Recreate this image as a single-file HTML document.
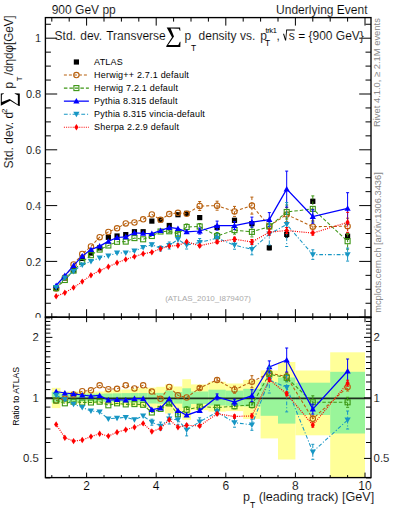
<!DOCTYPE html>
<html><head><meta charset="utf-8"><style>html,body{margin:0;padding:0;background:#fff;}svg{display:block;}text{stroke:#fff;stroke-width:0.12px;}text[font-size="9"],text[font-size="7.5"],text[font-size="8"],text[font-size="8.4"],text[font-size="8.6"],text[font-size="8.7"],text[font-size="9.3"],text[font-size="9.4"]{stroke:none;}</style></head>
<body><svg width="393" height="512" viewBox="0 0 393 512">
<defs>
<clipPath id="cm"><rect x="45.4" y="17.6" width="325.6" height="299.59999999999997"/></clipPath>
<clipPath id="cr"><rect x="45.4" y="317.2" width="325.6" height="160.40000000000003"/></clipPath>
<clipPath id="c0"><rect x="0" y="0" width="45" height="317.7"/></clipPath>
</defs>
<rect width="393" height="512" fill="#fff"/>
<g clip-path="url(#cr)">
<rect x="51.80" y="387.80" width="8.70" height="20.30" fill="#FFFF99"/><rect x="60.50" y="391.50" width="8.70" height="12.00" fill="#FFFF99"/><rect x="69.20" y="391.50" width="8.70" height="12.00" fill="#FFFF99"/><rect x="77.90" y="391.50" width="8.70" height="12.00" fill="#FFFF99"/><rect x="86.60" y="391.50" width="8.70" height="12.00" fill="#FFFF99"/><rect x="95.30" y="391.50" width="8.70" height="12.00" fill="#FFFF99"/><rect x="104.00" y="390.50" width="8.70" height="14.00" fill="#FFFF99"/><rect x="112.70" y="390.00" width="8.70" height="15.00" fill="#FFFF99"/><rect x="121.40" y="389.50" width="8.70" height="16.00" fill="#FFFF99"/><rect x="130.10" y="388.50" width="8.70" height="18.00" fill="#FFFF99"/><rect x="138.80" y="388.00" width="8.70" height="19.00" fill="#FFFF99"/><rect x="147.50" y="387.60" width="8.70" height="20.40" fill="#FFFF99"/><rect x="156.20" y="386.80" width="8.70" height="21.40" fill="#FFFF99"/><rect x="164.90" y="384.50" width="8.70" height="29.00" fill="#FFFF99"/><rect x="173.60" y="386.50" width="8.70" height="24.70" fill="#FFFF99"/><rect x="182.30" y="379.20" width="8.70" height="40.60" fill="#FFFF99"/><rect x="191.00" y="384.40" width="17.40" height="25.80" fill="#FFFF99"/><rect x="208.40" y="381.70" width="17.40" height="29.90" fill="#FFFF99"/><rect x="225.80" y="383.50" width="17.40" height="27.60" fill="#FFFF99"/><rect x="243.20" y="379.90" width="17.40" height="39.00" fill="#FFFF99"/><rect x="260.60" y="370.40" width="17.40" height="68.00" fill="#FFFF99"/><rect x="278.00" y="362.00" width="17.40" height="97.50" fill="#FFFF99"/><rect x="295.40" y="370.50" width="34.80" height="64.80" fill="#FFFF99"/><rect x="330.20" y="352.30" width="34.80" height="125.30" fill="#FFFF99"/><rect x="51.80" y="392.00" width="8.70" height="10.50" fill="#99F59A"/><rect x="60.50" y="393.70" width="8.70" height="7.80" fill="#99F59A"/><rect x="69.20" y="393.70" width="8.70" height="7.80" fill="#99F59A"/><rect x="77.90" y="393.70" width="8.70" height="7.80" fill="#99F59A"/><rect x="86.60" y="393.70" width="8.70" height="7.80" fill="#99F59A"/><rect x="95.30" y="393.70" width="8.70" height="7.80" fill="#99F59A"/><rect x="104.00" y="393.50" width="8.70" height="8.30" fill="#99F59A"/><rect x="112.70" y="393.30" width="8.70" height="8.70" fill="#99F59A"/><rect x="121.40" y="393.10" width="8.70" height="9.10" fill="#99F59A"/><rect x="130.10" y="393.00" width="8.70" height="9.50" fill="#99F59A"/><rect x="138.80" y="393.00" width="8.70" height="9.50" fill="#99F59A"/><rect x="147.50" y="392.90" width="8.70" height="10.60" fill="#99F59A"/><rect x="156.20" y="392.90" width="8.70" height="10.70" fill="#99F59A"/><rect x="164.90" y="390.60" width="8.70" height="13.80" fill="#99F59A"/><rect x="173.60" y="392.10" width="8.70" height="11.50" fill="#99F59A"/><rect x="182.30" y="388.30" width="8.70" height="19.70" fill="#99F59A"/><rect x="191.00" y="391.50" width="17.40" height="12.50" fill="#99F59A"/><rect x="208.40" y="389.70" width="17.40" height="15.80" fill="#99F59A"/><rect x="225.80" y="390.60" width="17.40" height="15.20" fill="#99F59A"/><rect x="243.20" y="388.80" width="17.40" height="17.60" fill="#99F59A"/><rect x="260.60" y="382.50" width="17.40" height="33.30" fill="#99F59A"/><rect x="278.00" y="377.50" width="17.40" height="46.10" fill="#99F59A"/><rect x="295.40" y="382.70" width="34.80" height="32.30" fill="#99F59A"/><rect x="330.20" y="371.80" width="34.80" height="61.70" fill="#99F59A"/>
<line x1="45.4" y1="398.40" x2="371.0" y2="398.40" stroke="#000" stroke-opacity="0.8" stroke-width="1.7"/>
<polyline points="56.15,400.60 64.85,398.60 73.55,394.50 82.25,391.20 90.95,390.30 99.65,385.30 108.35,389.20 117.05,388.80 125.75,385.30 134.45,388.40 143.15,385.30 151.85,391.60 160.55,398.80 169.25,387.00 177.95,395.30 186.65,397.50 199.70,388.00 217.10,379.90 234.50,389.70 251.90,381.70 269.30,373.10 286.70,376.60 312.80,418.80 347.60,387.00" fill="none" stroke="#B8600E" stroke-width="1.05" stroke-dasharray="3,2"/>
<path d="M199.70,386.50V389.50" stroke="#B8600E" stroke-width="1" fill="none" stroke-dasharray="3,2"/>
<path d="M198.20,386.50h3M198.20,389.50h3" stroke="#B8600E" stroke-width="1" fill="none"/>
<path d="M217.10,377.90V381.90" stroke="#B8600E" stroke-width="1" fill="none" stroke-dasharray="3,2"/>
<path d="M215.60,377.90h3M215.60,381.90h3" stroke="#B8600E" stroke-width="1" fill="none"/>
<path d="M234.50,386.20V393.20" stroke="#B8600E" stroke-width="1" fill="none" stroke-dasharray="3,2"/>
<path d="M233.00,386.20h3M233.00,393.20h3" stroke="#B8600E" stroke-width="1" fill="none"/>
<path d="M251.90,375.70V387.70" stroke="#B8600E" stroke-width="1" fill="none" stroke-dasharray="3,2"/>
<path d="M250.40,375.70h3M250.40,387.70h3" stroke="#B8600E" stroke-width="1" fill="none"/>
<path d="M269.30,370.10V376.10" stroke="#B8600E" stroke-width="1" fill="none" stroke-dasharray="3,2"/>
<path d="M267.80,370.10h3M267.80,376.10h3" stroke="#B8600E" stroke-width="1" fill="none"/>
<path d="M286.70,372.60V380.60" stroke="#B8600E" stroke-width="1" fill="none" stroke-dasharray="3,2"/>
<path d="M285.20,372.60h3M285.20,380.60h3" stroke="#B8600E" stroke-width="1" fill="none"/>
<path d="M312.80,415.80V421.80" stroke="#B8600E" stroke-width="1" fill="none" stroke-dasharray="3,2"/>
<path d="M311.30,415.80h3M311.30,421.80h3" stroke="#B8600E" stroke-width="1" fill="none"/>
<path d="M347.60,383.00V391.00" stroke="#B8600E" stroke-width="1" fill="none" stroke-dasharray="3,2"/>
<path d="M346.10,383.00h3M346.10,391.00h3" stroke="#B8600E" stroke-width="1" fill="none"/>
<circle cx="56.15" cy="400.60" r="2.7" fill="none" stroke="#B8600E" stroke-width="1.1"/>
<circle cx="64.85" cy="398.60" r="2.7" fill="none" stroke="#B8600E" stroke-width="1.1"/>
<circle cx="73.55" cy="394.50" r="2.7" fill="none" stroke="#B8600E" stroke-width="1.1"/>
<circle cx="82.25" cy="391.20" r="2.7" fill="none" stroke="#B8600E" stroke-width="1.1"/>
<circle cx="90.95" cy="390.30" r="2.7" fill="none" stroke="#B8600E" stroke-width="1.1"/>
<circle cx="99.65" cy="385.30" r="2.7" fill="none" stroke="#B8600E" stroke-width="1.1"/>
<circle cx="108.35" cy="389.20" r="2.7" fill="none" stroke="#B8600E" stroke-width="1.1"/>
<circle cx="117.05" cy="388.80" r="2.7" fill="none" stroke="#B8600E" stroke-width="1.1"/>
<circle cx="125.75" cy="385.30" r="2.7" fill="none" stroke="#B8600E" stroke-width="1.1"/>
<circle cx="134.45" cy="388.40" r="2.7" fill="none" stroke="#B8600E" stroke-width="1.1"/>
<circle cx="143.15" cy="385.30" r="2.7" fill="none" stroke="#B8600E" stroke-width="1.1"/>
<circle cx="151.85" cy="391.60" r="2.7" fill="none" stroke="#B8600E" stroke-width="1.1"/>
<circle cx="160.55" cy="398.80" r="2.7" fill="none" stroke="#B8600E" stroke-width="1.1"/>
<circle cx="169.25" cy="387.00" r="2.7" fill="none" stroke="#B8600E" stroke-width="1.1"/>
<circle cx="177.95" cy="395.30" r="2.7" fill="none" stroke="#B8600E" stroke-width="1.1"/>
<circle cx="186.65" cy="397.50" r="2.7" fill="none" stroke="#B8600E" stroke-width="1.1"/>
<circle cx="199.70" cy="388.00" r="2.7" fill="none" stroke="#B8600E" stroke-width="1.1"/>
<circle cx="217.10" cy="379.90" r="2.7" fill="none" stroke="#B8600E" stroke-width="1.1"/>
<circle cx="234.50" cy="389.70" r="2.7" fill="none" stroke="#B8600E" stroke-width="1.1"/>
<circle cx="251.90" cy="381.70" r="2.7" fill="none" stroke="#B8600E" stroke-width="1.1"/>
<circle cx="269.30" cy="373.10" r="2.7" fill="none" stroke="#B8600E" stroke-width="1.1"/>
<circle cx="286.70" cy="376.60" r="2.7" fill="none" stroke="#B8600E" stroke-width="1.1"/>
<circle cx="312.80" cy="418.80" r="2.7" fill="none" stroke="#B8600E" stroke-width="1.1"/>
<circle cx="347.60" cy="387.00" r="2.7" fill="none" stroke="#B8600E" stroke-width="1.1"/>
<polyline points="56.15,400.60 64.85,403.30 73.55,401.70 82.25,402.50 90.95,402.50 99.65,401.70 108.35,405.30 117.05,403.30 125.75,404.40 134.45,404.10 143.15,404.80 151.85,412.50 160.55,408.90 169.25,403.40 177.95,414.40 186.65,409.70 199.70,406.70 217.10,407.50 234.50,406.30 251.90,404.90 269.30,374.20 286.70,377.80 312.80,402.30 347.60,402.30" fill="none" stroke="#3C9614" stroke-width="1.05" stroke-dasharray="3.5,2"/>
<path d="M169.25,401.90V404.90" stroke="#3C9614" stroke-width="1" fill="none" stroke-dasharray="3.5,2"/>
<path d="M167.75,401.90h3M167.75,404.90h3" stroke="#3C9614" stroke-width="1" fill="none"/>
<path d="M177.95,412.40V416.40" stroke="#3C9614" stroke-width="1" fill="none" stroke-dasharray="3.5,2"/>
<path d="M176.45,412.40h3M176.45,416.40h3" stroke="#3C9614" stroke-width="1" fill="none"/>
<path d="M186.65,406.70V412.70" stroke="#3C9614" stroke-width="1" fill="none" stroke-dasharray="3.5,2"/>
<path d="M185.15,406.70h3M185.15,412.70h3" stroke="#3C9614" stroke-width="1" fill="none"/>
<path d="M199.70,405.20V408.20" stroke="#3C9614" stroke-width="1" fill="none" stroke-dasharray="3.5,2"/>
<path d="M198.20,405.20h3M198.20,408.20h3" stroke="#3C9614" stroke-width="1" fill="none"/>
<path d="M217.10,405.50V409.50" stroke="#3C9614" stroke-width="1" fill="none" stroke-dasharray="3.5,2"/>
<path d="M215.60,405.50h3M215.60,409.50h3" stroke="#3C9614" stroke-width="1" fill="none"/>
<path d="M234.50,403.80V408.80" stroke="#3C9614" stroke-width="1" fill="none" stroke-dasharray="3.5,2"/>
<path d="M233.00,403.80h3M233.00,408.80h3" stroke="#3C9614" stroke-width="1" fill="none"/>
<path d="M251.90,401.90V407.90" stroke="#3C9614" stroke-width="1" fill="none" stroke-dasharray="3.5,2"/>
<path d="M250.40,401.90h3M250.40,407.90h3" stroke="#3C9614" stroke-width="1" fill="none"/>
<path d="M269.30,371.20V377.20" stroke="#3C9614" stroke-width="1" fill="none" stroke-dasharray="3.5,2"/>
<path d="M267.80,371.20h3M267.80,377.20h3" stroke="#3C9614" stroke-width="1" fill="none"/>
<path d="M286.70,373.80V381.80" stroke="#3C9614" stroke-width="1" fill="none" stroke-dasharray="3.5,2"/>
<path d="M285.20,373.80h3M285.20,381.80h3" stroke="#3C9614" stroke-width="1" fill="none"/>
<path d="M312.80,395.80V408.80" stroke="#3C9614" stroke-width="1" fill="none" stroke-dasharray="3.5,2"/>
<path d="M311.30,395.80h3M311.30,408.80h3" stroke="#3C9614" stroke-width="1" fill="none"/>
<path d="M347.60,397.30V407.30" stroke="#3C9614" stroke-width="1" fill="none" stroke-dasharray="3.5,2"/>
<path d="M346.10,397.30h3M346.10,407.30h3" stroke="#3C9614" stroke-width="1" fill="none"/>
<rect x="53.65" y="398.10" width="5" height="5" fill="none" stroke="#3C9614" stroke-width="1.1"/>
<rect x="62.35" y="400.80" width="5" height="5" fill="none" stroke="#3C9614" stroke-width="1.1"/>
<rect x="71.05" y="399.20" width="5" height="5" fill="none" stroke="#3C9614" stroke-width="1.1"/>
<rect x="79.75" y="400.00" width="5" height="5" fill="none" stroke="#3C9614" stroke-width="1.1"/>
<rect x="88.45" y="400.00" width="5" height="5" fill="none" stroke="#3C9614" stroke-width="1.1"/>
<rect x="97.15" y="399.20" width="5" height="5" fill="none" stroke="#3C9614" stroke-width="1.1"/>
<rect x="105.85" y="402.80" width="5" height="5" fill="none" stroke="#3C9614" stroke-width="1.1"/>
<rect x="114.55" y="400.80" width="5" height="5" fill="none" stroke="#3C9614" stroke-width="1.1"/>
<rect x="123.25" y="401.90" width="5" height="5" fill="none" stroke="#3C9614" stroke-width="1.1"/>
<rect x="131.95" y="401.60" width="5" height="5" fill="none" stroke="#3C9614" stroke-width="1.1"/>
<rect x="140.65" y="402.30" width="5" height="5" fill="none" stroke="#3C9614" stroke-width="1.1"/>
<rect x="149.35" y="410.00" width="5" height="5" fill="none" stroke="#3C9614" stroke-width="1.1"/>
<rect x="158.05" y="406.40" width="5" height="5" fill="none" stroke="#3C9614" stroke-width="1.1"/>
<rect x="166.75" y="400.90" width="5" height="5" fill="none" stroke="#3C9614" stroke-width="1.1"/>
<rect x="175.45" y="411.90" width="5" height="5" fill="none" stroke="#3C9614" stroke-width="1.1"/>
<rect x="184.15" y="407.20" width="5" height="5" fill="none" stroke="#3C9614" stroke-width="1.1"/>
<rect x="197.20" y="404.20" width="5" height="5" fill="none" stroke="#3C9614" stroke-width="1.1"/>
<rect x="214.60" y="405.00" width="5" height="5" fill="none" stroke="#3C9614" stroke-width="1.1"/>
<rect x="232.00" y="403.80" width="5" height="5" fill="none" stroke="#3C9614" stroke-width="1.1"/>
<rect x="249.40" y="402.40" width="5" height="5" fill="none" stroke="#3C9614" stroke-width="1.1"/>
<rect x="266.80" y="371.70" width="5" height="5" fill="none" stroke="#3C9614" stroke-width="1.1"/>
<rect x="284.20" y="375.30" width="5" height="5" fill="none" stroke="#3C9614" stroke-width="1.1"/>
<rect x="310.30" y="399.80" width="5" height="5" fill="none" stroke="#3C9614" stroke-width="1.1"/>
<rect x="345.10" y="399.80" width="5" height="5" fill="none" stroke="#3C9614" stroke-width="1.1"/>
<polyline points="56.15,391.50 64.85,393.00 73.55,393.80 82.25,395.00 90.95,396.00 99.65,395.50 108.35,400.20 117.05,399.70 125.75,400.20 134.45,398.60 143.15,398.60 151.85,409.50 160.55,408.10 169.25,398.80 177.95,410.50 186.65,415.20 199.70,410.60 217.10,396.90 234.50,402.20 251.90,395.70 269.30,366.90 286.70,360.00 312.80,409.10 347.60,371.00" fill="none" stroke="#0000FF" stroke-width="1.25"/>
<path d="M199.70,409.10V412.10" stroke="#0000FF" stroke-width="1" fill="none"/>
<path d="M198.20,409.10h3M198.20,412.10h3" stroke="#0000FF" stroke-width="1" fill="none"/>
<path d="M217.10,393.90V399.90" stroke="#0000FF" stroke-width="1" fill="none"/>
<path d="M215.60,393.90h3M215.60,399.90h3" stroke="#0000FF" stroke-width="1" fill="none"/>
<path d="M234.50,399.20V405.20" stroke="#0000FF" stroke-width="1" fill="none"/>
<path d="M233.00,399.20h3M233.00,405.20h3" stroke="#0000FF" stroke-width="1" fill="none"/>
<path d="M251.90,389.70V401.70" stroke="#0000FF" stroke-width="1" fill="none"/>
<path d="M250.40,389.70h3M250.40,401.70h3" stroke="#0000FF" stroke-width="1" fill="none"/>
<path d="M269.30,360.90V372.90" stroke="#0000FF" stroke-width="1" fill="none"/>
<path d="M267.80,360.90h3M267.80,372.90h3" stroke="#0000FF" stroke-width="1" fill="none"/>
<path d="M286.70,348.00V372.00" stroke="#0000FF" stroke-width="1" fill="none"/>
<path d="M285.20,348.00h3M285.20,372.00h3" stroke="#0000FF" stroke-width="1" fill="none"/>
<path d="M312.80,404.10V414.10" stroke="#0000FF" stroke-width="1" fill="none"/>
<path d="M311.30,404.10h3M311.30,414.10h3" stroke="#0000FF" stroke-width="1" fill="none"/>
<path d="M347.60,359.00V383.00" stroke="#0000FF" stroke-width="1" fill="none"/>
<path d="M346.10,359.00h3M346.10,383.00h3" stroke="#0000FF" stroke-width="1" fill="none"/>
<path d="M56.15,388.40 L59.25,393.90 L53.05,393.90Z" fill="#0000FF"/>
<path d="M64.85,389.90 L67.95,395.40 L61.75,395.40Z" fill="#0000FF"/>
<path d="M73.55,390.70 L76.65,396.20 L70.45,396.20Z" fill="#0000FF"/>
<path d="M82.25,391.90 L85.35,397.40 L79.15,397.40Z" fill="#0000FF"/>
<path d="M90.95,392.90 L94.05,398.40 L87.85,398.40Z" fill="#0000FF"/>
<path d="M99.65,392.40 L102.75,397.90 L96.55,397.90Z" fill="#0000FF"/>
<path d="M108.35,397.10 L111.45,402.60 L105.25,402.60Z" fill="#0000FF"/>
<path d="M117.05,396.60 L120.15,402.10 L113.95,402.10Z" fill="#0000FF"/>
<path d="M125.75,397.10 L128.85,402.60 L122.65,402.60Z" fill="#0000FF"/>
<path d="M134.45,395.50 L137.55,401.00 L131.35,401.00Z" fill="#0000FF"/>
<path d="M143.15,395.50 L146.25,401.00 L140.05,401.00Z" fill="#0000FF"/>
<path d="M151.85,406.40 L154.95,411.90 L148.75,411.90Z" fill="#0000FF"/>
<path d="M160.55,405.00 L163.65,410.50 L157.45,410.50Z" fill="#0000FF"/>
<path d="M169.25,395.70 L172.35,401.20 L166.15,401.20Z" fill="#0000FF"/>
<path d="M177.95,407.40 L181.05,412.90 L174.85,412.90Z" fill="#0000FF"/>
<path d="M186.65,412.10 L189.75,417.60 L183.55,417.60Z" fill="#0000FF"/>
<path d="M199.70,407.50 L202.80,413.00 L196.60,413.00Z" fill="#0000FF"/>
<path d="M217.10,393.80 L220.20,399.30 L214.00,399.30Z" fill="#0000FF"/>
<path d="M234.50,399.10 L237.60,404.60 L231.40,404.60Z" fill="#0000FF"/>
<path d="M251.90,392.60 L255.00,398.10 L248.80,398.10Z" fill="#0000FF"/>
<path d="M269.30,363.80 L272.40,369.30 L266.20,369.30Z" fill="#0000FF"/>
<path d="M286.70,356.90 L289.80,362.40 L283.60,362.40Z" fill="#0000FF"/>
<path d="M312.80,406.00 L315.90,411.50 L309.70,411.50Z" fill="#0000FF"/>
<path d="M347.60,367.90 L350.70,373.40 L344.50,373.40Z" fill="#0000FF"/>
<polyline points="56.15,395.20 64.85,399.60 73.55,404.20 82.25,407.50 90.95,411.00 99.65,411.90 108.35,418.80 117.05,418.10 125.75,417.40 134.45,419.70 143.15,416.00 151.85,422.20 160.55,426.10 169.25,419.00 177.95,419.80 186.65,429.90 199.70,421.80 217.10,412.00 234.50,422.70 251.90,424.80 269.30,380.00 286.70,387.40 312.80,451.80 347.60,420.00" fill="none" stroke="#1796C4" stroke-width="1.05" stroke-dasharray="3.8,1.9,1.1,1.9"/>
<path d="M151.85,419.20V425.20" stroke="#1796C4" stroke-width="1" fill="none" stroke-dasharray="3.8,1.9,1.1,1.9"/>
<path d="M150.35,419.20h3M150.35,425.20h3" stroke="#1796C4" stroke-width="1" fill="none"/>
<path d="M160.55,422.10V430.10" stroke="#1796C4" stroke-width="1" fill="none" stroke-dasharray="3.8,1.9,1.1,1.9"/>
<path d="M159.05,422.10h3M159.05,430.10h3" stroke="#1796C4" stroke-width="1" fill="none"/>
<path d="M169.25,414.00V424.00" stroke="#1796C4" stroke-width="1" fill="none" stroke-dasharray="3.8,1.9,1.1,1.9"/>
<path d="M167.75,414.00h3M167.75,424.00h3" stroke="#1796C4" stroke-width="1" fill="none"/>
<path d="M177.95,414.80V424.80" stroke="#1796C4" stroke-width="1" fill="none" stroke-dasharray="3.8,1.9,1.1,1.9"/>
<path d="M176.45,414.80h3M176.45,424.80h3" stroke="#1796C4" stroke-width="1" fill="none"/>
<path d="M186.65,423.90V435.90" stroke="#1796C4" stroke-width="1" fill="none" stroke-dasharray="3.8,1.9,1.1,1.9"/>
<path d="M185.15,423.90h3M185.15,435.90h3" stroke="#1796C4" stroke-width="1" fill="none"/>
<path d="M199.70,417.80V425.80" stroke="#1796C4" stroke-width="1" fill="none" stroke-dasharray="3.8,1.9,1.1,1.9"/>
<path d="M198.20,417.80h3M198.20,425.80h3" stroke="#1796C4" stroke-width="1" fill="none"/>
<path d="M217.10,409.00V415.00" stroke="#1796C4" stroke-width="1" fill="none" stroke-dasharray="3.8,1.9,1.1,1.9"/>
<path d="M215.60,409.00h3M215.60,415.00h3" stroke="#1796C4" stroke-width="1" fill="none"/>
<path d="M234.50,418.20V427.20" stroke="#1796C4" stroke-width="1" fill="none" stroke-dasharray="3.8,1.9,1.1,1.9"/>
<path d="M233.00,418.20h3M233.00,427.20h3" stroke="#1796C4" stroke-width="1" fill="none"/>
<path d="M251.90,419.30V430.30" stroke="#1796C4" stroke-width="1" fill="none" stroke-dasharray="3.8,1.9,1.1,1.9"/>
<path d="M250.40,419.30h3M250.40,430.30h3" stroke="#1796C4" stroke-width="1" fill="none"/>
<path d="M269.30,367.00V393.00" stroke="#1796C4" stroke-width="1" fill="none" stroke-dasharray="3.8,1.9,1.1,1.9"/>
<path d="M267.80,367.00h3M267.80,393.00h3" stroke="#1796C4" stroke-width="1" fill="none"/>
<path d="M286.70,375.40V411.90" stroke="#1796C4" stroke-width="1" fill="none" stroke-dasharray="3.8,1.9,1.1,1.9"/>
<path d="M285.20,375.40h3M285.20,411.90h3" stroke="#1796C4" stroke-width="1" fill="none"/>
<path d="M312.80,444.30V459.30" stroke="#1796C4" stroke-width="1" fill="none" stroke-dasharray="3.8,1.9,1.1,1.9"/>
<path d="M311.30,444.30h3M311.30,459.30h3" stroke="#1796C4" stroke-width="1" fill="none"/>
<path d="M347.60,411.00V429.00" stroke="#1796C4" stroke-width="1" fill="none" stroke-dasharray="3.8,1.9,1.1,1.9"/>
<path d="M346.10,411.00h3M346.10,429.00h3" stroke="#1796C4" stroke-width="1" fill="none"/>
<path d="M56.15,398.30 L59.25,392.80 L53.05,392.80Z" fill="#1796C4"/>
<path d="M64.85,402.70 L67.95,397.20 L61.75,397.20Z" fill="#1796C4"/>
<path d="M73.55,407.30 L76.65,401.80 L70.45,401.80Z" fill="#1796C4"/>
<path d="M82.25,410.60 L85.35,405.10 L79.15,405.10Z" fill="#1796C4"/>
<path d="M90.95,414.10 L94.05,408.60 L87.85,408.60Z" fill="#1796C4"/>
<path d="M99.65,415.00 L102.75,409.50 L96.55,409.50Z" fill="#1796C4"/>
<path d="M108.35,421.90 L111.45,416.40 L105.25,416.40Z" fill="#1796C4"/>
<path d="M117.05,421.20 L120.15,415.70 L113.95,415.70Z" fill="#1796C4"/>
<path d="M125.75,420.50 L128.85,415.00 L122.65,415.00Z" fill="#1796C4"/>
<path d="M134.45,422.80 L137.55,417.30 L131.35,417.30Z" fill="#1796C4"/>
<path d="M143.15,419.10 L146.25,413.60 L140.05,413.60Z" fill="#1796C4"/>
<path d="M151.85,425.30 L154.95,419.80 L148.75,419.80Z" fill="#1796C4"/>
<path d="M160.55,429.20 L163.65,423.70 L157.45,423.70Z" fill="#1796C4"/>
<path d="M169.25,422.10 L172.35,416.60 L166.15,416.60Z" fill="#1796C4"/>
<path d="M177.95,422.90 L181.05,417.40 L174.85,417.40Z" fill="#1796C4"/>
<path d="M186.65,433.00 L189.75,427.50 L183.55,427.50Z" fill="#1796C4"/>
<path d="M199.70,424.90 L202.80,419.40 L196.60,419.40Z" fill="#1796C4"/>
<path d="M217.10,415.10 L220.20,409.60 L214.00,409.60Z" fill="#1796C4"/>
<path d="M234.50,425.80 L237.60,420.30 L231.40,420.30Z" fill="#1796C4"/>
<path d="M251.90,427.90 L255.00,422.40 L248.80,422.40Z" fill="#1796C4"/>
<path d="M269.30,383.10 L272.40,377.60 L266.20,377.60Z" fill="#1796C4"/>
<path d="M286.70,390.50 L289.80,385.00 L283.60,385.00Z" fill="#1796C4"/>
<path d="M312.80,454.90 L315.90,449.40 L309.70,449.40Z" fill="#1796C4"/>
<path d="M347.60,423.10 L350.70,417.60 L344.50,417.60Z" fill="#1796C4"/>
<polyline points="56.15,424.40 64.85,437.70 73.55,441.10 82.25,440.00 90.95,436.60 99.65,433.80 108.35,436.10 117.05,432.20 125.75,429.70 134.45,427.30 143.15,423.40 151.85,431.50 160.55,428.40 169.25,419.80 177.95,427.20 186.65,425.30 199.70,425.90 217.10,413.80 234.50,416.50 251.90,415.90 269.30,379.60 286.70,393.80 312.80,425.10 347.60,383.20" fill="none" stroke="#FF0000" stroke-width="1.2" stroke-dasharray="1,1.2"/>
<path d="M199.70,424.90V426.90" stroke="#FF0000" stroke-width="1" fill="none" stroke-dasharray="1,1.2"/>
<path d="M198.20,424.90h3M198.20,426.90h3" stroke="#FF0000" stroke-width="1" fill="none"/>
<path d="M217.10,412.80V414.80" stroke="#FF0000" stroke-width="1" fill="none" stroke-dasharray="1,1.2"/>
<path d="M215.60,412.80h3M215.60,414.80h3" stroke="#FF0000" stroke-width="1" fill="none"/>
<path d="M234.50,415.00V418.00" stroke="#FF0000" stroke-width="1" fill="none" stroke-dasharray="1,1.2"/>
<path d="M233.00,415.00h3M233.00,418.00h3" stroke="#FF0000" stroke-width="1" fill="none"/>
<path d="M251.90,413.90V417.90" stroke="#FF0000" stroke-width="1" fill="none" stroke-dasharray="1,1.2"/>
<path d="M250.40,413.90h3M250.40,417.90h3" stroke="#FF0000" stroke-width="1" fill="none"/>
<path d="M269.30,377.60V381.60" stroke="#FF0000" stroke-width="1" fill="none" stroke-dasharray="1,1.2"/>
<path d="M267.80,377.60h3M267.80,381.60h3" stroke="#FF0000" stroke-width="1" fill="none"/>
<path d="M286.70,391.80V395.80" stroke="#FF0000" stroke-width="1" fill="none" stroke-dasharray="1,1.2"/>
<path d="M285.20,391.80h3M285.20,395.80h3" stroke="#FF0000" stroke-width="1" fill="none"/>
<path d="M312.80,423.10V427.10" stroke="#FF0000" stroke-width="1" fill="none" stroke-dasharray="1,1.2"/>
<path d="M311.30,423.10h3M311.30,427.10h3" stroke="#FF0000" stroke-width="1" fill="none"/>
<path d="M347.60,380.20V386.20" stroke="#FF0000" stroke-width="1" fill="none" stroke-dasharray="1,1.2"/>
<path d="M346.10,380.20h3M346.10,386.20h3" stroke="#FF0000" stroke-width="1" fill="none"/>
<path d="M56.15,421.20 L58.25,424.40 L56.15,427.60 L54.05,424.40Z" fill="#FF0000"/>
<path d="M64.85,434.50 L66.95,437.70 L64.85,440.90 L62.75,437.70Z" fill="#FF0000"/>
<path d="M73.55,437.90 L75.65,441.10 L73.55,444.30 L71.45,441.10Z" fill="#FF0000"/>
<path d="M82.25,436.80 L84.35,440.00 L82.25,443.20 L80.15,440.00Z" fill="#FF0000"/>
<path d="M90.95,433.40 L93.05,436.60 L90.95,439.80 L88.85,436.60Z" fill="#FF0000"/>
<path d="M99.65,430.60 L101.75,433.80 L99.65,437.00 L97.55,433.80Z" fill="#FF0000"/>
<path d="M108.35,432.90 L110.45,436.10 L108.35,439.30 L106.25,436.10Z" fill="#FF0000"/>
<path d="M117.05,429.00 L119.15,432.20 L117.05,435.40 L114.95,432.20Z" fill="#FF0000"/>
<path d="M125.75,426.50 L127.85,429.70 L125.75,432.90 L123.65,429.70Z" fill="#FF0000"/>
<path d="M134.45,424.10 L136.55,427.30 L134.45,430.50 L132.35,427.30Z" fill="#FF0000"/>
<path d="M143.15,420.20 L145.25,423.40 L143.15,426.60 L141.05,423.40Z" fill="#FF0000"/>
<path d="M151.85,428.30 L153.95,431.50 L151.85,434.70 L149.75,431.50Z" fill="#FF0000"/>
<path d="M160.55,425.20 L162.65,428.40 L160.55,431.60 L158.45,428.40Z" fill="#FF0000"/>
<path d="M169.25,416.60 L171.35,419.80 L169.25,423.00 L167.15,419.80Z" fill="#FF0000"/>
<path d="M177.95,424.00 L180.05,427.20 L177.95,430.40 L175.85,427.20Z" fill="#FF0000"/>
<path d="M186.65,422.10 L188.75,425.30 L186.65,428.50 L184.55,425.30Z" fill="#FF0000"/>
<path d="M199.70,422.70 L201.80,425.90 L199.70,429.10 L197.60,425.90Z" fill="#FF0000"/>
<path d="M217.10,410.60 L219.20,413.80 L217.10,417.00 L215.00,413.80Z" fill="#FF0000"/>
<path d="M234.50,413.30 L236.60,416.50 L234.50,419.70 L232.40,416.50Z" fill="#FF0000"/>
<path d="M251.90,412.70 L254.00,415.90 L251.90,419.10 L249.80,415.90Z" fill="#FF0000"/>
<path d="M269.30,376.40 L271.40,379.60 L269.30,382.80 L267.20,379.60Z" fill="#FF0000"/>
<path d="M286.70,390.60 L288.80,393.80 L286.70,397.00 L284.60,393.80Z" fill="#FF0000"/>
<path d="M312.80,421.90 L314.90,425.10 L312.80,428.30 L310.70,425.10Z" fill="#FF0000"/>
<path d="M347.60,380.00 L349.70,383.20 L347.60,386.40 L345.50,383.20Z" fill="#FF0000"/>
</g>
<g clip-path="url(#cm)">
<path d="M199.70,216.60V218.60" stroke="#000000" stroke-width="1" fill="none"/>
<path d="M198.20,216.60h3M198.20,218.60h3" stroke="#000000" stroke-width="1" fill="none"/>
<path d="M217.10,226.50V228.50" stroke="#000000" stroke-width="1" fill="none"/>
<path d="M215.60,226.50h3M215.60,228.50h3" stroke="#000000" stroke-width="1" fill="none"/>
<path d="M234.50,218.80V221.80" stroke="#000000" stroke-width="1" fill="none"/>
<path d="M233.00,218.80h3M233.00,221.80h3" stroke="#000000" stroke-width="1" fill="none"/>
<path d="M251.90,221.60V225.60" stroke="#000000" stroke-width="1" fill="none"/>
<path d="M250.40,221.60h3M250.40,225.60h3" stroke="#000000" stroke-width="1" fill="none"/>
<path d="M269.30,245.80V249.80" stroke="#000000" stroke-width="1" fill="none"/>
<path d="M267.80,245.80h3M267.80,249.80h3" stroke="#000000" stroke-width="1" fill="none"/>
<path d="M286.70,231.40V237.40" stroke="#000000" stroke-width="1" fill="none"/>
<path d="M285.20,231.40h3M285.20,237.40h3" stroke="#000000" stroke-width="1" fill="none"/>
<path d="M312.80,199.30V203.30" stroke="#000000" stroke-width="1" fill="none"/>
<path d="M311.30,199.30h3M311.30,203.30h3" stroke="#000000" stroke-width="1" fill="none"/>
<path d="M347.60,233.30V239.30" stroke="#000000" stroke-width="1" fill="none"/>
<path d="M346.10,233.30h3M346.10,239.30h3" stroke="#000000" stroke-width="1" fill="none"/>
<rect x="53.55" y="285.80" width="5.2" height="5.2" fill="#000"/>
<rect x="62.25" y="275.40" width="5.2" height="5.2" fill="#000"/>
<rect x="70.95" y="267.40" width="5.2" height="5.2" fill="#000"/>
<rect x="79.65" y="255.80" width="5.2" height="5.2" fill="#000"/>
<rect x="88.35" y="250.50" width="5.2" height="5.2" fill="#000"/>
<rect x="97.05" y="245.30" width="5.2" height="5.2" fill="#000"/>
<rect x="105.75" y="234.70" width="5.2" height="5.2" fill="#000"/>
<rect x="114.45" y="233.40" width="5.2" height="5.2" fill="#000"/>
<rect x="123.15" y="232.00" width="5.2" height="5.2" fill="#000"/>
<rect x="131.85" y="229.10" width="5.2" height="5.2" fill="#000"/>
<rect x="140.55" y="229.10" width="5.2" height="5.2" fill="#000"/>
<rect x="149.25" y="218.50" width="5.2" height="5.2" fill="#000"/>
<rect x="157.95" y="217.20" width="5.2" height="5.2" fill="#000"/>
<rect x="166.65" y="222.90" width="5.2" height="5.2" fill="#000"/>
<rect x="175.35" y="212.10" width="5.2" height="5.2" fill="#000"/>
<rect x="184.05" y="210.80" width="5.2" height="5.2" fill="#000"/>
<rect x="197.10" y="215.00" width="5.2" height="5.2" fill="#000"/>
<rect x="214.50" y="224.90" width="5.2" height="5.2" fill="#000"/>
<rect x="231.90" y="217.70" width="5.2" height="5.2" fill="#000"/>
<rect x="249.30" y="221.00" width="5.2" height="5.2" fill="#000"/>
<rect x="266.70" y="245.20" width="5.2" height="5.2" fill="#000"/>
<rect x="284.10" y="231.80" width="5.2" height="5.2" fill="#000"/>
<rect x="310.20" y="198.70" width="5.2" height="5.2" fill="#000"/>
<rect x="345.00" y="233.70" width="5.2" height="5.2" fill="#000"/>
<polyline points="56.15,288.50 64.85,277.50 73.55,264.50 82.25,254.00 90.95,246.40 99.65,237.20 108.35,231.90 117.05,228.30 125.75,223.40 134.45,222.50 143.15,219.30 151.85,214.40 160.55,219.80 169.25,214.10 177.95,212.80 186.65,213.80 199.70,206.00 217.10,205.70 234.50,211.40 251.90,205.60 269.30,226.00 286.70,214.60 312.80,226.70 347.60,226.20" fill="none" stroke="#B8600E" stroke-width="1.05" stroke-dasharray="3,2"/>
<path d="M199.70,201.50V210.50" stroke="#B8600E" stroke-width="1" fill="none" stroke-dasharray="3,2"/>
<path d="M198.20,201.50h3M198.20,210.50h3" stroke="#B8600E" stroke-width="1" fill="none"/>
<path d="M217.10,201.20V210.20" stroke="#B8600E" stroke-width="1" fill="none" stroke-dasharray="3,2"/>
<path d="M215.60,201.20h3M215.60,210.20h3" stroke="#B8600E" stroke-width="1" fill="none"/>
<path d="M234.50,206.40V216.40" stroke="#B8600E" stroke-width="1" fill="none" stroke-dasharray="3,2"/>
<path d="M233.00,206.40h3M233.00,216.40h3" stroke="#B8600E" stroke-width="1" fill="none"/>
<path d="M251.90,197.10V214.10" stroke="#B8600E" stroke-width="1" fill="none" stroke-dasharray="3,2"/>
<path d="M250.40,197.10h3M250.40,214.10h3" stroke="#B8600E" stroke-width="1" fill="none"/>
<path d="M269.30,220.00V232.00" stroke="#B8600E" stroke-width="1" fill="none" stroke-dasharray="3,2"/>
<path d="M267.80,220.00h3M267.80,232.00h3" stroke="#B8600E" stroke-width="1" fill="none"/>
<path d="M286.70,207.60V221.60" stroke="#B8600E" stroke-width="1" fill="none" stroke-dasharray="3,2"/>
<path d="M285.20,207.60h3M285.20,221.60h3" stroke="#B8600E" stroke-width="1" fill="none"/>
<path d="M312.80,220.70V232.70" stroke="#B8600E" stroke-width="1" fill="none" stroke-dasharray="3,2"/>
<path d="M311.30,220.70h3M311.30,232.70h3" stroke="#B8600E" stroke-width="1" fill="none"/>
<path d="M347.60,218.20V234.20" stroke="#B8600E" stroke-width="1" fill="none" stroke-dasharray="3,2"/>
<path d="M346.10,218.20h3M346.10,234.20h3" stroke="#B8600E" stroke-width="1" fill="none"/>
<circle cx="56.15" cy="288.50" r="2.7" fill="none" stroke="#B8600E" stroke-width="1.1"/>
<circle cx="64.85" cy="277.50" r="2.7" fill="none" stroke="#B8600E" stroke-width="1.1"/>
<circle cx="73.55" cy="264.50" r="2.7" fill="none" stroke="#B8600E" stroke-width="1.1"/>
<circle cx="82.25" cy="254.00" r="2.7" fill="none" stroke="#B8600E" stroke-width="1.1"/>
<circle cx="90.95" cy="246.40" r="2.7" fill="none" stroke="#B8600E" stroke-width="1.1"/>
<circle cx="99.65" cy="237.20" r="2.7" fill="none" stroke="#B8600E" stroke-width="1.1"/>
<circle cx="108.35" cy="231.90" r="2.7" fill="none" stroke="#B8600E" stroke-width="1.1"/>
<circle cx="117.05" cy="228.30" r="2.7" fill="none" stroke="#B8600E" stroke-width="1.1"/>
<circle cx="125.75" cy="223.40" r="2.7" fill="none" stroke="#B8600E" stroke-width="1.1"/>
<circle cx="134.45" cy="222.50" r="2.7" fill="none" stroke="#B8600E" stroke-width="1.1"/>
<circle cx="143.15" cy="219.30" r="2.7" fill="none" stroke="#B8600E" stroke-width="1.1"/>
<circle cx="151.85" cy="214.40" r="2.7" fill="none" stroke="#B8600E" stroke-width="1.1"/>
<circle cx="160.55" cy="219.80" r="2.7" fill="none" stroke="#B8600E" stroke-width="1.1"/>
<circle cx="169.25" cy="214.10" r="2.7" fill="none" stroke="#B8600E" stroke-width="1.1"/>
<circle cx="177.95" cy="212.80" r="2.7" fill="none" stroke="#B8600E" stroke-width="1.1"/>
<circle cx="186.65" cy="213.80" r="2.7" fill="none" stroke="#B8600E" stroke-width="1.1"/>
<circle cx="199.70" cy="206.00" r="2.7" fill="none" stroke="#B8600E" stroke-width="1.1"/>
<circle cx="217.10" cy="205.70" r="2.7" fill="none" stroke="#B8600E" stroke-width="1.1"/>
<circle cx="234.50" cy="211.40" r="2.7" fill="none" stroke="#B8600E" stroke-width="1.1"/>
<circle cx="251.90" cy="205.60" r="2.7" fill="none" stroke="#B8600E" stroke-width="1.1"/>
<circle cx="269.30" cy="226.00" r="2.7" fill="none" stroke="#B8600E" stroke-width="1.1"/>
<circle cx="286.70" cy="214.60" r="2.7" fill="none" stroke="#B8600E" stroke-width="1.1"/>
<circle cx="312.80" cy="226.70" r="2.7" fill="none" stroke="#B8600E" stroke-width="1.1"/>
<circle cx="347.60" cy="226.20" r="2.7" fill="none" stroke="#B8600E" stroke-width="1.1"/>
<polyline points="56.15,288.20 64.85,280.00 73.55,270.60 82.25,262.00 90.95,255.20 99.65,249.60 108.35,245.50 117.05,241.80 125.75,241.60 134.45,238.10 143.15,239.30 151.85,236.00 160.55,231.50 169.25,231.30 177.95,233.80 186.65,227.00 199.70,226.50 217.10,236.00 234.50,230.10 251.90,231.90 269.30,226.50 286.70,212.00 312.80,208.90 347.60,241.20" fill="none" stroke="#3C9614" stroke-width="1.05" stroke-dasharray="3.5,2"/>
<path d="M160.55,230.50V232.50" stroke="#3C9614" stroke-width="1" fill="none" stroke-dasharray="3.5,2"/>
<path d="M159.05,230.50h3M159.05,232.50h3" stroke="#3C9614" stroke-width="1" fill="none"/>
<path d="M169.25,230.30V232.30" stroke="#3C9614" stroke-width="1" fill="none" stroke-dasharray="3.5,2"/>
<path d="M167.75,230.30h3M167.75,232.30h3" stroke="#3C9614" stroke-width="1" fill="none"/>
<path d="M177.95,232.30V235.30" stroke="#3C9614" stroke-width="1" fill="none" stroke-dasharray="3.5,2"/>
<path d="M176.45,232.30h3M176.45,235.30h3" stroke="#3C9614" stroke-width="1" fill="none"/>
<path d="M186.65,224.00V230.00" stroke="#3C9614" stroke-width="1" fill="none" stroke-dasharray="3.5,2"/>
<path d="M185.15,224.00h3M185.15,230.00h3" stroke="#3C9614" stroke-width="1" fill="none"/>
<path d="M199.70,223.50V229.50" stroke="#3C9614" stroke-width="1" fill="none" stroke-dasharray="3.5,2"/>
<path d="M198.20,223.50h3M198.20,229.50h3" stroke="#3C9614" stroke-width="1" fill="none"/>
<path d="M217.10,232.50V239.50" stroke="#3C9614" stroke-width="1" fill="none" stroke-dasharray="3.5,2"/>
<path d="M215.60,232.50h3M215.60,239.50h3" stroke="#3C9614" stroke-width="1" fill="none"/>
<path d="M234.50,226.10V234.10" stroke="#3C9614" stroke-width="1" fill="none" stroke-dasharray="3.5,2"/>
<path d="M233.00,226.10h3M233.00,234.10h3" stroke="#3C9614" stroke-width="1" fill="none"/>
<path d="M251.90,226.90V236.90" stroke="#3C9614" stroke-width="1" fill="none" stroke-dasharray="3.5,2"/>
<path d="M250.40,226.90h3M250.40,236.90h3" stroke="#3C9614" stroke-width="1" fill="none"/>
<path d="M269.30,220.50V232.50" stroke="#3C9614" stroke-width="1" fill="none" stroke-dasharray="3.5,2"/>
<path d="M267.80,220.50h3M267.80,232.50h3" stroke="#3C9614" stroke-width="1" fill="none"/>
<path d="M286.70,205.00V219.00" stroke="#3C9614" stroke-width="1" fill="none" stroke-dasharray="3.5,2"/>
<path d="M285.20,205.00h3M285.20,219.00h3" stroke="#3C9614" stroke-width="1" fill="none"/>
<path d="M312.80,195.90V221.90" stroke="#3C9614" stroke-width="1" fill="none" stroke-dasharray="3.5,2"/>
<path d="M311.30,195.90h3M311.30,221.90h3" stroke="#3C9614" stroke-width="1" fill="none"/>
<path d="M347.60,233.20V249.20" stroke="#3C9614" stroke-width="1" fill="none" stroke-dasharray="3.5,2"/>
<path d="M346.10,233.20h3M346.10,249.20h3" stroke="#3C9614" stroke-width="1" fill="none"/>
<rect x="53.65" y="285.70" width="5" height="5" fill="none" stroke="#3C9614" stroke-width="1.1"/>
<rect x="62.35" y="277.50" width="5" height="5" fill="none" stroke="#3C9614" stroke-width="1.1"/>
<rect x="71.05" y="268.10" width="5" height="5" fill="none" stroke="#3C9614" stroke-width="1.1"/>
<rect x="79.75" y="259.50" width="5" height="5" fill="none" stroke="#3C9614" stroke-width="1.1"/>
<rect x="88.45" y="252.70" width="5" height="5" fill="none" stroke="#3C9614" stroke-width="1.1"/>
<rect x="97.15" y="247.10" width="5" height="5" fill="none" stroke="#3C9614" stroke-width="1.1"/>
<rect x="105.85" y="243.00" width="5" height="5" fill="none" stroke="#3C9614" stroke-width="1.1"/>
<rect x="114.55" y="239.30" width="5" height="5" fill="none" stroke="#3C9614" stroke-width="1.1"/>
<rect x="123.25" y="239.10" width="5" height="5" fill="none" stroke="#3C9614" stroke-width="1.1"/>
<rect x="131.95" y="235.60" width="5" height="5" fill="none" stroke="#3C9614" stroke-width="1.1"/>
<rect x="140.65" y="236.80" width="5" height="5" fill="none" stroke="#3C9614" stroke-width="1.1"/>
<rect x="149.35" y="233.50" width="5" height="5" fill="none" stroke="#3C9614" stroke-width="1.1"/>
<rect x="158.05" y="229.00" width="5" height="5" fill="none" stroke="#3C9614" stroke-width="1.1"/>
<rect x="166.75" y="228.80" width="5" height="5" fill="none" stroke="#3C9614" stroke-width="1.1"/>
<rect x="175.45" y="231.30" width="5" height="5" fill="none" stroke="#3C9614" stroke-width="1.1"/>
<rect x="184.15" y="224.50" width="5" height="5" fill="none" stroke="#3C9614" stroke-width="1.1"/>
<rect x="197.20" y="224.00" width="5" height="5" fill="none" stroke="#3C9614" stroke-width="1.1"/>
<rect x="214.60" y="233.50" width="5" height="5" fill="none" stroke="#3C9614" stroke-width="1.1"/>
<rect x="232.00" y="227.60" width="5" height="5" fill="none" stroke="#3C9614" stroke-width="1.1"/>
<rect x="249.40" y="229.40" width="5" height="5" fill="none" stroke="#3C9614" stroke-width="1.1"/>
<rect x="266.80" y="224.00" width="5" height="5" fill="none" stroke="#3C9614" stroke-width="1.1"/>
<rect x="284.20" y="209.50" width="5" height="5" fill="none" stroke="#3C9614" stroke-width="1.1"/>
<rect x="310.30" y="206.40" width="5" height="5" fill="none" stroke="#3C9614" stroke-width="1.1"/>
<rect x="345.10" y="238.70" width="5" height="5" fill="none" stroke="#3C9614" stroke-width="1.1"/>
<polyline points="56.15,285.50 64.85,275.60 73.55,265.60 82.25,256.10 90.95,249.60 99.65,246.10 108.35,241.40 117.05,237.50 125.75,236.90 134.45,232.80 143.15,233.40 151.85,233.60 160.55,230.60 169.25,227.50 177.95,228.70 186.65,231.90 199.70,231.00 217.10,225.60 234.50,225.60 251.90,222.10 269.30,219.60 286.70,189.10 312.80,216.50 347.60,208.40" fill="none" stroke="#0000FF" stroke-width="1.25"/>
<path d="M199.70,228.00V234.00" stroke="#0000FF" stroke-width="1" fill="none"/>
<path d="M198.20,228.00h3M198.20,234.00h3" stroke="#0000FF" stroke-width="1" fill="none"/>
<path d="M217.10,221.10V230.10" stroke="#0000FF" stroke-width="1" fill="none"/>
<path d="M215.60,221.10h3M215.60,230.10h3" stroke="#0000FF" stroke-width="1" fill="none"/>
<path d="M234.50,221.60V229.60" stroke="#0000FF" stroke-width="1" fill="none"/>
<path d="M233.00,221.60h3M233.00,229.60h3" stroke="#0000FF" stroke-width="1" fill="none"/>
<path d="M251.90,217.10V227.10" stroke="#0000FF" stroke-width="1" fill="none"/>
<path d="M250.40,217.10h3M250.40,227.10h3" stroke="#0000FF" stroke-width="1" fill="none"/>
<path d="M269.30,212.60V226.60" stroke="#0000FF" stroke-width="1" fill="none"/>
<path d="M267.80,212.60h3M267.80,226.60h3" stroke="#0000FF" stroke-width="1" fill="none"/>
<path d="M286.70,171.10V207.10" stroke="#0000FF" stroke-width="1" fill="none"/>
<path d="M285.20,171.10h3M285.20,207.10h3" stroke="#0000FF" stroke-width="1" fill="none"/>
<path d="M312.80,209.80V223.20" stroke="#0000FF" stroke-width="1" fill="none"/>
<path d="M311.30,209.80h3M311.30,223.20h3" stroke="#0000FF" stroke-width="1" fill="none"/>
<path d="M347.60,192.70V224.10" stroke="#0000FF" stroke-width="1" fill="none"/>
<path d="M346.10,192.70h3M346.10,224.10h3" stroke="#0000FF" stroke-width="1" fill="none"/>
<path d="M56.15,282.40 L59.25,287.90 L53.05,287.90Z" fill="#0000FF"/>
<path d="M64.85,272.50 L67.95,278.00 L61.75,278.00Z" fill="#0000FF"/>
<path d="M73.55,262.50 L76.65,268.00 L70.45,268.00Z" fill="#0000FF"/>
<path d="M82.25,253.00 L85.35,258.50 L79.15,258.50Z" fill="#0000FF"/>
<path d="M90.95,246.50 L94.05,252.00 L87.85,252.00Z" fill="#0000FF"/>
<path d="M99.65,243.00 L102.75,248.50 L96.55,248.50Z" fill="#0000FF"/>
<path d="M108.35,238.30 L111.45,243.80 L105.25,243.80Z" fill="#0000FF"/>
<path d="M117.05,234.40 L120.15,239.90 L113.95,239.90Z" fill="#0000FF"/>
<path d="M125.75,233.80 L128.85,239.30 L122.65,239.30Z" fill="#0000FF"/>
<path d="M134.45,229.70 L137.55,235.20 L131.35,235.20Z" fill="#0000FF"/>
<path d="M143.15,230.30 L146.25,235.80 L140.05,235.80Z" fill="#0000FF"/>
<path d="M151.85,230.50 L154.95,236.00 L148.75,236.00Z" fill="#0000FF"/>
<path d="M160.55,227.50 L163.65,233.00 L157.45,233.00Z" fill="#0000FF"/>
<path d="M169.25,224.40 L172.35,229.90 L166.15,229.90Z" fill="#0000FF"/>
<path d="M177.95,225.60 L181.05,231.10 L174.85,231.10Z" fill="#0000FF"/>
<path d="M186.65,228.80 L189.75,234.30 L183.55,234.30Z" fill="#0000FF"/>
<path d="M199.70,227.90 L202.80,233.40 L196.60,233.40Z" fill="#0000FF"/>
<path d="M217.10,222.50 L220.20,228.00 L214.00,228.00Z" fill="#0000FF"/>
<path d="M234.50,222.50 L237.60,228.00 L231.40,228.00Z" fill="#0000FF"/>
<path d="M251.90,219.00 L255.00,224.50 L248.80,224.50Z" fill="#0000FF"/>
<path d="M269.30,216.50 L272.40,222.00 L266.20,222.00Z" fill="#0000FF"/>
<path d="M286.70,186.00 L289.80,191.50 L283.60,191.50Z" fill="#0000FF"/>
<path d="M312.80,213.40 L315.90,218.90 L309.70,218.90Z" fill="#0000FF"/>
<path d="M347.60,205.30 L350.70,210.80 L344.50,210.80Z" fill="#0000FF"/>
<polyline points="56.15,287.50 64.85,277.80 73.55,271.30 82.25,264.80 90.95,261.30 99.65,257.80 108.35,255.80 117.05,253.00 125.75,252.80 134.45,251.00 143.15,247.50 151.85,244.60 160.55,248.50 169.25,245.50 177.95,239.50 186.65,245.00 199.70,242.50 217.10,238.10 234.50,245.20 251.90,249.30 269.30,234.00 286.70,224.50 312.80,254.60 347.60,254.60" fill="none" stroke="#1796C4" stroke-width="1.05" stroke-dasharray="3.8,1.9,1.1,1.9"/>
<path d="M151.85,243.10V246.10" stroke="#1796C4" stroke-width="1" fill="none" stroke-dasharray="3.8,1.9,1.1,1.9"/>
<path d="M150.35,243.10h3M150.35,246.10h3" stroke="#1796C4" stroke-width="1" fill="none"/>
<path d="M160.55,246.00V251.00" stroke="#1796C4" stroke-width="1" fill="none" stroke-dasharray="3.8,1.9,1.1,1.9"/>
<path d="M159.05,246.00h3M159.05,251.00h3" stroke="#1796C4" stroke-width="1" fill="none"/>
<path d="M169.25,242.00V249.00" stroke="#1796C4" stroke-width="1" fill="none" stroke-dasharray="3.8,1.9,1.1,1.9"/>
<path d="M167.75,242.00h3M167.75,249.00h3" stroke="#1796C4" stroke-width="1" fill="none"/>
<path d="M177.95,235.50V243.50" stroke="#1796C4" stroke-width="1" fill="none" stroke-dasharray="3.8,1.9,1.1,1.9"/>
<path d="M176.45,235.50h3M176.45,243.50h3" stroke="#1796C4" stroke-width="1" fill="none"/>
<path d="M186.65,241.00V249.00" stroke="#1796C4" stroke-width="1" fill="none" stroke-dasharray="3.8,1.9,1.1,1.9"/>
<path d="M185.15,241.00h3M185.15,249.00h3" stroke="#1796C4" stroke-width="1" fill="none"/>
<path d="M199.70,238.50V246.50" stroke="#1796C4" stroke-width="1" fill="none" stroke-dasharray="3.8,1.9,1.1,1.9"/>
<path d="M198.20,238.50h3M198.20,246.50h3" stroke="#1796C4" stroke-width="1" fill="none"/>
<path d="M217.10,234.10V242.10" stroke="#1796C4" stroke-width="1" fill="none" stroke-dasharray="3.8,1.9,1.1,1.9"/>
<path d="M215.60,234.10h3M215.60,242.10h3" stroke="#1796C4" stroke-width="1" fill="none"/>
<path d="M234.50,241.20V249.20" stroke="#1796C4" stroke-width="1" fill="none" stroke-dasharray="3.8,1.9,1.1,1.9"/>
<path d="M233.00,241.20h3M233.00,249.20h3" stroke="#1796C4" stroke-width="1" fill="none"/>
<path d="M251.90,243.80V254.80" stroke="#1796C4" stroke-width="1" fill="none" stroke-dasharray="3.8,1.9,1.1,1.9"/>
<path d="M250.40,243.80h3M250.40,254.80h3" stroke="#1796C4" stroke-width="1" fill="none"/>
<path d="M269.30,223.00V245.00" stroke="#1796C4" stroke-width="1" fill="none" stroke-dasharray="3.8,1.9,1.1,1.9"/>
<path d="M267.80,223.00h3M267.80,245.00h3" stroke="#1796C4" stroke-width="1" fill="none"/>
<path d="M286.70,202.50V246.50" stroke="#1796C4" stroke-width="1" fill="none" stroke-dasharray="3.8,1.9,1.1,1.9"/>
<path d="M285.20,202.50h3M285.20,246.50h3" stroke="#1796C4" stroke-width="1" fill="none"/>
<path d="M312.80,249.80V259.40" stroke="#1796C4" stroke-width="1" fill="none" stroke-dasharray="3.8,1.9,1.1,1.9"/>
<path d="M311.30,249.80h3M311.30,259.40h3" stroke="#1796C4" stroke-width="1" fill="none"/>
<path d="M347.60,248.10V261.10" stroke="#1796C4" stroke-width="1" fill="none" stroke-dasharray="3.8,1.9,1.1,1.9"/>
<path d="M346.10,248.10h3M346.10,261.10h3" stroke="#1796C4" stroke-width="1" fill="none"/>
<path d="M56.15,290.60 L59.25,285.10 L53.05,285.10Z" fill="#1796C4"/>
<path d="M64.85,280.90 L67.95,275.40 L61.75,275.40Z" fill="#1796C4"/>
<path d="M73.55,274.40 L76.65,268.90 L70.45,268.90Z" fill="#1796C4"/>
<path d="M82.25,267.90 L85.35,262.40 L79.15,262.40Z" fill="#1796C4"/>
<path d="M90.95,264.40 L94.05,258.90 L87.85,258.90Z" fill="#1796C4"/>
<path d="M99.65,260.90 L102.75,255.40 L96.55,255.40Z" fill="#1796C4"/>
<path d="M108.35,258.90 L111.45,253.40 L105.25,253.40Z" fill="#1796C4"/>
<path d="M117.05,256.10 L120.15,250.60 L113.95,250.60Z" fill="#1796C4"/>
<path d="M125.75,255.90 L128.85,250.40 L122.65,250.40Z" fill="#1796C4"/>
<path d="M134.45,254.10 L137.55,248.60 L131.35,248.60Z" fill="#1796C4"/>
<path d="M143.15,250.60 L146.25,245.10 L140.05,245.10Z" fill="#1796C4"/>
<path d="M151.85,247.70 L154.95,242.20 L148.75,242.20Z" fill="#1796C4"/>
<path d="M160.55,251.60 L163.65,246.10 L157.45,246.10Z" fill="#1796C4"/>
<path d="M169.25,248.60 L172.35,243.10 L166.15,243.10Z" fill="#1796C4"/>
<path d="M177.95,242.60 L181.05,237.10 L174.85,237.10Z" fill="#1796C4"/>
<path d="M186.65,248.10 L189.75,242.60 L183.55,242.60Z" fill="#1796C4"/>
<path d="M199.70,245.60 L202.80,240.10 L196.60,240.10Z" fill="#1796C4"/>
<path d="M217.10,241.20 L220.20,235.70 L214.00,235.70Z" fill="#1796C4"/>
<path d="M234.50,248.30 L237.60,242.80 L231.40,242.80Z" fill="#1796C4"/>
<path d="M251.90,252.40 L255.00,246.90 L248.80,246.90Z" fill="#1796C4"/>
<path d="M269.30,237.10 L272.40,231.60 L266.20,231.60Z" fill="#1796C4"/>
<path d="M286.70,227.60 L289.80,222.10 L283.60,222.10Z" fill="#1796C4"/>
<path d="M312.80,257.70 L315.90,252.20 L309.70,252.20Z" fill="#1796C4"/>
<path d="M347.60,257.70 L350.70,252.20 L344.50,252.20Z" fill="#1796C4"/>
<polyline points="56.15,296.30 64.85,292.80 73.55,287.60 82.25,281.60 90.95,275.30 99.65,270.70 108.35,266.70 117.05,262.80 125.75,259.40 134.45,256.60 143.15,253.80 151.85,252.20 160.55,248.70 169.25,246.10 177.95,245.50 186.65,241.80 199.70,245.80 217.10,241.90 234.50,239.20 251.90,242.00 269.30,232.20 286.70,230.50 312.80,233.10 347.60,222.30" fill="none" stroke="#FF0000" stroke-width="1.2" stroke-dasharray="1,1.2"/>
<path d="M199.70,244.80V246.80" stroke="#FF0000" stroke-width="1" fill="none" stroke-dasharray="1,1.2"/>
<path d="M198.20,244.80h3M198.20,246.80h3" stroke="#FF0000" stroke-width="1" fill="none"/>
<path d="M217.10,240.40V243.40" stroke="#FF0000" stroke-width="1" fill="none" stroke-dasharray="1,1.2"/>
<path d="M215.60,240.40h3M215.60,243.40h3" stroke="#FF0000" stroke-width="1" fill="none"/>
<path d="M234.50,237.20V241.20" stroke="#FF0000" stroke-width="1" fill="none" stroke-dasharray="1,1.2"/>
<path d="M233.00,237.20h3M233.00,241.20h3" stroke="#FF0000" stroke-width="1" fill="none"/>
<path d="M251.90,239.50V244.50" stroke="#FF0000" stroke-width="1" fill="none" stroke-dasharray="1,1.2"/>
<path d="M250.40,239.50h3M250.40,244.50h3" stroke="#FF0000" stroke-width="1" fill="none"/>
<path d="M269.30,229.20V235.20" stroke="#FF0000" stroke-width="1" fill="none" stroke-dasharray="1,1.2"/>
<path d="M267.80,229.20h3M267.80,235.20h3" stroke="#FF0000" stroke-width="1" fill="none"/>
<path d="M286.70,227.50V233.50" stroke="#FF0000" stroke-width="1" fill="none" stroke-dasharray="1,1.2"/>
<path d="M285.20,227.50h3M285.20,233.50h3" stroke="#FF0000" stroke-width="1" fill="none"/>
<path d="M312.80,231.10V235.10" stroke="#FF0000" stroke-width="1" fill="none" stroke-dasharray="1,1.2"/>
<path d="M311.30,231.10h3M311.30,235.10h3" stroke="#FF0000" stroke-width="1" fill="none"/>
<path d="M347.60,212.30V232.30" stroke="#FF0000" stroke-width="1" fill="none" stroke-dasharray="1,1.2"/>
<path d="M346.10,212.30h3M346.10,232.30h3" stroke="#FF0000" stroke-width="1" fill="none"/>
<path d="M56.15,293.10 L58.25,296.30 L56.15,299.50 L54.05,296.30Z" fill="#FF0000"/>
<path d="M64.85,289.60 L66.95,292.80 L64.85,296.00 L62.75,292.80Z" fill="#FF0000"/>
<path d="M73.55,284.40 L75.65,287.60 L73.55,290.80 L71.45,287.60Z" fill="#FF0000"/>
<path d="M82.25,278.40 L84.35,281.60 L82.25,284.80 L80.15,281.60Z" fill="#FF0000"/>
<path d="M90.95,272.10 L93.05,275.30 L90.95,278.50 L88.85,275.30Z" fill="#FF0000"/>
<path d="M99.65,267.50 L101.75,270.70 L99.65,273.90 L97.55,270.70Z" fill="#FF0000"/>
<path d="M108.35,263.50 L110.45,266.70 L108.35,269.90 L106.25,266.70Z" fill="#FF0000"/>
<path d="M117.05,259.60 L119.15,262.80 L117.05,266.00 L114.95,262.80Z" fill="#FF0000"/>
<path d="M125.75,256.20 L127.85,259.40 L125.75,262.60 L123.65,259.40Z" fill="#FF0000"/>
<path d="M134.45,253.40 L136.55,256.60 L134.45,259.80 L132.35,256.60Z" fill="#FF0000"/>
<path d="M143.15,250.60 L145.25,253.80 L143.15,257.00 L141.05,253.80Z" fill="#FF0000"/>
<path d="M151.85,249.00 L153.95,252.20 L151.85,255.40 L149.75,252.20Z" fill="#FF0000"/>
<path d="M160.55,245.50 L162.65,248.70 L160.55,251.90 L158.45,248.70Z" fill="#FF0000"/>
<path d="M169.25,242.90 L171.35,246.10 L169.25,249.30 L167.15,246.10Z" fill="#FF0000"/>
<path d="M177.95,242.30 L180.05,245.50 L177.95,248.70 L175.85,245.50Z" fill="#FF0000"/>
<path d="M186.65,238.60 L188.75,241.80 L186.65,245.00 L184.55,241.80Z" fill="#FF0000"/>
<path d="M199.70,242.60 L201.80,245.80 L199.70,249.00 L197.60,245.80Z" fill="#FF0000"/>
<path d="M217.10,238.70 L219.20,241.90 L217.10,245.10 L215.00,241.90Z" fill="#FF0000"/>
<path d="M234.50,236.00 L236.60,239.20 L234.50,242.40 L232.40,239.20Z" fill="#FF0000"/>
<path d="M251.90,238.80 L254.00,242.00 L251.90,245.20 L249.80,242.00Z" fill="#FF0000"/>
<path d="M269.30,229.00 L271.40,232.20 L269.30,235.40 L267.20,232.20Z" fill="#FF0000"/>
<path d="M286.70,227.30 L288.80,230.50 L286.70,233.70 L284.60,230.50Z" fill="#FF0000"/>
<path d="M312.80,229.90 L314.90,233.10 L312.80,236.30 L310.70,233.10Z" fill="#FF0000"/>
<path d="M347.60,219.10 L349.70,222.30 L347.60,225.50 L345.50,222.30Z" fill="#FF0000"/>
</g>
<line x1="51.80" y1="17.6" x2="51.80" y2="21.6" stroke="#000" stroke-width="1"/>
<line x1="51.80" y1="317.2" x2="51.80" y2="313.2" stroke="#000" stroke-width="1"/>
<line x1="51.80" y1="317.2" x2="51.80" y2="319.7" stroke="#000" stroke-width="1"/>
<line x1="51.80" y1="477.6" x2="51.80" y2="475.1" stroke="#000" stroke-width="1"/>
<line x1="69.20" y1="17.6" x2="69.20" y2="21.6" stroke="#000" stroke-width="1"/>
<line x1="69.20" y1="317.2" x2="69.20" y2="313.2" stroke="#000" stroke-width="1"/>
<line x1="69.20" y1="317.2" x2="69.20" y2="319.7" stroke="#000" stroke-width="1"/>
<line x1="69.20" y1="477.6" x2="69.20" y2="475.1" stroke="#000" stroke-width="1"/>
<line x1="86.60" y1="17.6" x2="86.60" y2="25.6" stroke="#000" stroke-width="1"/>
<line x1="86.60" y1="317.2" x2="86.60" y2="309.2" stroke="#000" stroke-width="1"/>
<line x1="86.60" y1="317.2" x2="86.60" y2="322.2" stroke="#000" stroke-width="1"/>
<line x1="86.60" y1="477.6" x2="86.60" y2="472.6" stroke="#000" stroke-width="1"/>
<line x1="104.00" y1="17.6" x2="104.00" y2="21.6" stroke="#000" stroke-width="1"/>
<line x1="104.00" y1="317.2" x2="104.00" y2="313.2" stroke="#000" stroke-width="1"/>
<line x1="104.00" y1="317.2" x2="104.00" y2="319.7" stroke="#000" stroke-width="1"/>
<line x1="104.00" y1="477.6" x2="104.00" y2="475.1" stroke="#000" stroke-width="1"/>
<line x1="121.40" y1="17.6" x2="121.40" y2="21.6" stroke="#000" stroke-width="1"/>
<line x1="121.40" y1="317.2" x2="121.40" y2="313.2" stroke="#000" stroke-width="1"/>
<line x1="121.40" y1="317.2" x2="121.40" y2="319.7" stroke="#000" stroke-width="1"/>
<line x1="121.40" y1="477.6" x2="121.40" y2="475.1" stroke="#000" stroke-width="1"/>
<line x1="138.80" y1="17.6" x2="138.80" y2="21.6" stroke="#000" stroke-width="1"/>
<line x1="138.80" y1="317.2" x2="138.80" y2="313.2" stroke="#000" stroke-width="1"/>
<line x1="138.80" y1="317.2" x2="138.80" y2="319.7" stroke="#000" stroke-width="1"/>
<line x1="138.80" y1="477.6" x2="138.80" y2="475.1" stroke="#000" stroke-width="1"/>
<line x1="156.20" y1="17.6" x2="156.20" y2="25.6" stroke="#000" stroke-width="1"/>
<line x1="156.20" y1="317.2" x2="156.20" y2="309.2" stroke="#000" stroke-width="1"/>
<line x1="156.20" y1="317.2" x2="156.20" y2="322.2" stroke="#000" stroke-width="1"/>
<line x1="156.20" y1="477.6" x2="156.20" y2="472.6" stroke="#000" stroke-width="1"/>
<line x1="173.60" y1="17.6" x2="173.60" y2="21.6" stroke="#000" stroke-width="1"/>
<line x1="173.60" y1="317.2" x2="173.60" y2="313.2" stroke="#000" stroke-width="1"/>
<line x1="173.60" y1="317.2" x2="173.60" y2="319.7" stroke="#000" stroke-width="1"/>
<line x1="173.60" y1="477.6" x2="173.60" y2="475.1" stroke="#000" stroke-width="1"/>
<line x1="191.00" y1="17.6" x2="191.00" y2="21.6" stroke="#000" stroke-width="1"/>
<line x1="191.00" y1="317.2" x2="191.00" y2="313.2" stroke="#000" stroke-width="1"/>
<line x1="191.00" y1="317.2" x2="191.00" y2="319.7" stroke="#000" stroke-width="1"/>
<line x1="191.00" y1="477.6" x2="191.00" y2="475.1" stroke="#000" stroke-width="1"/>
<line x1="208.40" y1="17.6" x2="208.40" y2="21.6" stroke="#000" stroke-width="1"/>
<line x1="208.40" y1="317.2" x2="208.40" y2="313.2" stroke="#000" stroke-width="1"/>
<line x1="208.40" y1="317.2" x2="208.40" y2="319.7" stroke="#000" stroke-width="1"/>
<line x1="208.40" y1="477.6" x2="208.40" y2="475.1" stroke="#000" stroke-width="1"/>
<line x1="225.80" y1="17.6" x2="225.80" y2="25.6" stroke="#000" stroke-width="1"/>
<line x1="225.80" y1="317.2" x2="225.80" y2="309.2" stroke="#000" stroke-width="1"/>
<line x1="225.80" y1="317.2" x2="225.80" y2="322.2" stroke="#000" stroke-width="1"/>
<line x1="225.80" y1="477.6" x2="225.80" y2="472.6" stroke="#000" stroke-width="1"/>
<line x1="243.20" y1="17.6" x2="243.20" y2="21.6" stroke="#000" stroke-width="1"/>
<line x1="243.20" y1="317.2" x2="243.20" y2="313.2" stroke="#000" stroke-width="1"/>
<line x1="243.20" y1="317.2" x2="243.20" y2="319.7" stroke="#000" stroke-width="1"/>
<line x1="243.20" y1="477.6" x2="243.20" y2="475.1" stroke="#000" stroke-width="1"/>
<line x1="260.60" y1="17.6" x2="260.60" y2="21.6" stroke="#000" stroke-width="1"/>
<line x1="260.60" y1="317.2" x2="260.60" y2="313.2" stroke="#000" stroke-width="1"/>
<line x1="260.60" y1="317.2" x2="260.60" y2="319.7" stroke="#000" stroke-width="1"/>
<line x1="260.60" y1="477.6" x2="260.60" y2="475.1" stroke="#000" stroke-width="1"/>
<line x1="278.00" y1="17.6" x2="278.00" y2="21.6" stroke="#000" stroke-width="1"/>
<line x1="278.00" y1="317.2" x2="278.00" y2="313.2" stroke="#000" stroke-width="1"/>
<line x1="278.00" y1="317.2" x2="278.00" y2="319.7" stroke="#000" stroke-width="1"/>
<line x1="278.00" y1="477.6" x2="278.00" y2="475.1" stroke="#000" stroke-width="1"/>
<line x1="295.40" y1="17.6" x2="295.40" y2="25.6" stroke="#000" stroke-width="1"/>
<line x1="295.40" y1="317.2" x2="295.40" y2="309.2" stroke="#000" stroke-width="1"/>
<line x1="295.40" y1="317.2" x2="295.40" y2="322.2" stroke="#000" stroke-width="1"/>
<line x1="295.40" y1="477.6" x2="295.40" y2="472.6" stroke="#000" stroke-width="1"/>
<line x1="312.80" y1="17.6" x2="312.80" y2="21.6" stroke="#000" stroke-width="1"/>
<line x1="312.80" y1="317.2" x2="312.80" y2="313.2" stroke="#000" stroke-width="1"/>
<line x1="312.80" y1="317.2" x2="312.80" y2="319.7" stroke="#000" stroke-width="1"/>
<line x1="312.80" y1="477.6" x2="312.80" y2="475.1" stroke="#000" stroke-width="1"/>
<line x1="330.20" y1="17.6" x2="330.20" y2="21.6" stroke="#000" stroke-width="1"/>
<line x1="330.20" y1="317.2" x2="330.20" y2="313.2" stroke="#000" stroke-width="1"/>
<line x1="330.20" y1="317.2" x2="330.20" y2="319.7" stroke="#000" stroke-width="1"/>
<line x1="330.20" y1="477.6" x2="330.20" y2="475.1" stroke="#000" stroke-width="1"/>
<line x1="347.60" y1="17.6" x2="347.60" y2="21.6" stroke="#000" stroke-width="1"/>
<line x1="347.60" y1="317.2" x2="347.60" y2="313.2" stroke="#000" stroke-width="1"/>
<line x1="347.60" y1="317.2" x2="347.60" y2="319.7" stroke="#000" stroke-width="1"/>
<line x1="347.60" y1="477.6" x2="347.60" y2="475.1" stroke="#000" stroke-width="1"/>
<line x1="365.00" y1="17.6" x2="365.00" y2="25.6" stroke="#000" stroke-width="1"/>
<line x1="365.00" y1="317.2" x2="365.00" y2="309.2" stroke="#000" stroke-width="1"/>
<line x1="365.00" y1="317.2" x2="365.00" y2="322.2" stroke="#000" stroke-width="1"/>
<line x1="365.00" y1="477.6" x2="365.00" y2="472.6" stroke="#000" stroke-width="1"/>
<line x1="45.4" y1="317.20" x2="57.2" y2="317.20" stroke="#000" stroke-width="1"/>
<line x1="371.0" y1="317.20" x2="359.2" y2="317.20" stroke="#000" stroke-width="1"/>
<line x1="45.4" y1="303.25" x2="50.9" y2="303.25" stroke="#000" stroke-width="1"/>
<line x1="371.0" y1="303.25" x2="365.5" y2="303.25" stroke="#000" stroke-width="1"/>
<line x1="45.4" y1="289.30" x2="50.9" y2="289.30" stroke="#000" stroke-width="1"/>
<line x1="371.0" y1="289.30" x2="365.5" y2="289.30" stroke="#000" stroke-width="1"/>
<line x1="45.4" y1="275.35" x2="50.9" y2="275.35" stroke="#000" stroke-width="1"/>
<line x1="371.0" y1="275.35" x2="365.5" y2="275.35" stroke="#000" stroke-width="1"/>
<line x1="45.4" y1="261.40" x2="57.2" y2="261.40" stroke="#000" stroke-width="1"/>
<line x1="371.0" y1="261.40" x2="359.2" y2="261.40" stroke="#000" stroke-width="1"/>
<line x1="45.4" y1="247.45" x2="50.9" y2="247.45" stroke="#000" stroke-width="1"/>
<line x1="371.0" y1="247.45" x2="365.5" y2="247.45" stroke="#000" stroke-width="1"/>
<line x1="45.4" y1="233.50" x2="50.9" y2="233.50" stroke="#000" stroke-width="1"/>
<line x1="371.0" y1="233.50" x2="365.5" y2="233.50" stroke="#000" stroke-width="1"/>
<line x1="45.4" y1="219.55" x2="50.9" y2="219.55" stroke="#000" stroke-width="1"/>
<line x1="371.0" y1="219.55" x2="365.5" y2="219.55" stroke="#000" stroke-width="1"/>
<line x1="45.4" y1="205.60" x2="57.2" y2="205.60" stroke="#000" stroke-width="1"/>
<line x1="371.0" y1="205.60" x2="359.2" y2="205.60" stroke="#000" stroke-width="1"/>
<line x1="45.4" y1="191.65" x2="50.9" y2="191.65" stroke="#000" stroke-width="1"/>
<line x1="371.0" y1="191.65" x2="365.5" y2="191.65" stroke="#000" stroke-width="1"/>
<line x1="45.4" y1="177.70" x2="50.9" y2="177.70" stroke="#000" stroke-width="1"/>
<line x1="371.0" y1="177.70" x2="365.5" y2="177.70" stroke="#000" stroke-width="1"/>
<line x1="45.4" y1="163.75" x2="50.9" y2="163.75" stroke="#000" stroke-width="1"/>
<line x1="371.0" y1="163.75" x2="365.5" y2="163.75" stroke="#000" stroke-width="1"/>
<line x1="45.4" y1="149.80" x2="57.2" y2="149.80" stroke="#000" stroke-width="1"/>
<line x1="371.0" y1="149.80" x2="359.2" y2="149.80" stroke="#000" stroke-width="1"/>
<line x1="45.4" y1="135.85" x2="50.9" y2="135.85" stroke="#000" stroke-width="1"/>
<line x1="371.0" y1="135.85" x2="365.5" y2="135.85" stroke="#000" stroke-width="1"/>
<line x1="45.4" y1="121.90" x2="50.9" y2="121.90" stroke="#000" stroke-width="1"/>
<line x1="371.0" y1="121.90" x2="365.5" y2="121.90" stroke="#000" stroke-width="1"/>
<line x1="45.4" y1="107.95" x2="50.9" y2="107.95" stroke="#000" stroke-width="1"/>
<line x1="371.0" y1="107.95" x2="365.5" y2="107.95" stroke="#000" stroke-width="1"/>
<line x1="45.4" y1="94.00" x2="57.2" y2="94.00" stroke="#000" stroke-width="1"/>
<line x1="371.0" y1="94.00" x2="359.2" y2="94.00" stroke="#000" stroke-width="1"/>
<line x1="45.4" y1="80.05" x2="50.9" y2="80.05" stroke="#000" stroke-width="1"/>
<line x1="371.0" y1="80.05" x2="365.5" y2="80.05" stroke="#000" stroke-width="1"/>
<line x1="45.4" y1="66.10" x2="50.9" y2="66.10" stroke="#000" stroke-width="1"/>
<line x1="371.0" y1="66.10" x2="365.5" y2="66.10" stroke="#000" stroke-width="1"/>
<line x1="45.4" y1="52.15" x2="50.9" y2="52.15" stroke="#000" stroke-width="1"/>
<line x1="371.0" y1="52.15" x2="365.5" y2="52.15" stroke="#000" stroke-width="1"/>
<line x1="45.4" y1="38.20" x2="57.2" y2="38.20" stroke="#000" stroke-width="1"/>
<line x1="371.0" y1="38.20" x2="359.2" y2="38.20" stroke="#000" stroke-width="1"/>
<line x1="45.4" y1="24.25" x2="50.9" y2="24.25" stroke="#000" stroke-width="1"/>
<line x1="371.0" y1="24.25" x2="365.5" y2="24.25" stroke="#000" stroke-width="1"/>
<line x1="45.4" y1="477.89" x2="50.4" y2="477.89" stroke="#000" stroke-width="1"/>
<line x1="371.0" y1="477.89" x2="366.0" y2="477.89" stroke="#000" stroke-width="1"/>
<line x1="45.4" y1="458.41" x2="52.4" y2="458.41" stroke="#000" stroke-width="1"/>
<line x1="371.0" y1="458.41" x2="364.0" y2="458.41" stroke="#000" stroke-width="1"/>
<line x1="45.4" y1="442.50" x2="50.4" y2="442.50" stroke="#000" stroke-width="1"/>
<line x1="371.0" y1="442.50" x2="366.0" y2="442.50" stroke="#000" stroke-width="1"/>
<line x1="45.4" y1="429.04" x2="50.4" y2="429.04" stroke="#000" stroke-width="1"/>
<line x1="371.0" y1="429.04" x2="366.0" y2="429.04" stroke="#000" stroke-width="1"/>
<line x1="45.4" y1="417.38" x2="50.4" y2="417.38" stroke="#000" stroke-width="1"/>
<line x1="371.0" y1="417.38" x2="366.0" y2="417.38" stroke="#000" stroke-width="1"/>
<line x1="45.4" y1="407.10" x2="50.4" y2="407.10" stroke="#000" stroke-width="1"/>
<line x1="371.0" y1="407.10" x2="366.0" y2="407.10" stroke="#000" stroke-width="1"/>
<line x1="45.4" y1="397.90" x2="52.4" y2="397.90" stroke="#000" stroke-width="1"/>
<line x1="371.0" y1="397.90" x2="364.0" y2="397.90" stroke="#000" stroke-width="1"/>
<line x1="45.4" y1="389.58" x2="50.4" y2="389.58" stroke="#000" stroke-width="1"/>
<line x1="371.0" y1="389.58" x2="366.0" y2="389.58" stroke="#000" stroke-width="1"/>
<line x1="45.4" y1="381.98" x2="50.4" y2="381.98" stroke="#000" stroke-width="1"/>
<line x1="371.0" y1="381.98" x2="366.0" y2="381.98" stroke="#000" stroke-width="1"/>
<line x1="45.4" y1="375.00" x2="50.4" y2="375.00" stroke="#000" stroke-width="1"/>
<line x1="371.0" y1="375.00" x2="366.0" y2="375.00" stroke="#000" stroke-width="1"/>
<line x1="45.4" y1="368.53" x2="50.4" y2="368.53" stroke="#000" stroke-width="1"/>
<line x1="371.0" y1="368.53" x2="366.0" y2="368.53" stroke="#000" stroke-width="1"/>
<line x1="45.4" y1="362.50" x2="50.4" y2="362.50" stroke="#000" stroke-width="1"/>
<line x1="371.0" y1="362.50" x2="366.0" y2="362.50" stroke="#000" stroke-width="1"/>
<line x1="45.4" y1="356.87" x2="50.4" y2="356.87" stroke="#000" stroke-width="1"/>
<line x1="371.0" y1="356.87" x2="366.0" y2="356.87" stroke="#000" stroke-width="1"/>
<line x1="45.4" y1="351.58" x2="50.4" y2="351.58" stroke="#000" stroke-width="1"/>
<line x1="371.0" y1="351.58" x2="366.0" y2="351.58" stroke="#000" stroke-width="1"/>
<line x1="45.4" y1="346.59" x2="50.4" y2="346.59" stroke="#000" stroke-width="1"/>
<line x1="371.0" y1="346.59" x2="366.0" y2="346.59" stroke="#000" stroke-width="1"/>
<line x1="45.4" y1="341.87" x2="50.4" y2="341.87" stroke="#000" stroke-width="1"/>
<line x1="371.0" y1="341.87" x2="366.0" y2="341.87" stroke="#000" stroke-width="1"/>
<line x1="45.4" y1="337.39" x2="52.4" y2="337.39" stroke="#000" stroke-width="1"/>
<line x1="371.0" y1="337.39" x2="364.0" y2="337.39" stroke="#000" stroke-width="1"/>
<line x1="45.4" y1="333.13" x2="50.4" y2="333.13" stroke="#000" stroke-width="1"/>
<line x1="371.0" y1="333.13" x2="366.0" y2="333.13" stroke="#000" stroke-width="1"/>
<line x1="45.4" y1="329.07" x2="50.4" y2="329.07" stroke="#000" stroke-width="1"/>
<line x1="371.0" y1="329.07" x2="366.0" y2="329.07" stroke="#000" stroke-width="1"/>
<line x1="45.4" y1="325.19" x2="50.4" y2="325.19" stroke="#000" stroke-width="1"/>
<line x1="371.0" y1="325.19" x2="366.0" y2="325.19" stroke="#000" stroke-width="1"/>
<line x1="45.4" y1="321.47" x2="50.4" y2="321.47" stroke="#000" stroke-width="1"/>
<line x1="371.0" y1="321.47" x2="366.0" y2="321.47" stroke="#000" stroke-width="1"/>
<line x1="45.4" y1="317.91" x2="50.4" y2="317.91" stroke="#000" stroke-width="1"/>
<line x1="371.0" y1="317.91" x2="366.0" y2="317.91" stroke="#000" stroke-width="1"/>
<rect x="45.4" y="17.6" width="325.6" height="299.59999999999997" fill="none" stroke="#000" stroke-width="1.35"/>
<rect x="45.4" y="317.2" width="325.6" height="160.40000000000003" fill="none" stroke="#000" stroke-width="1.35"/>
<text x="41.2" y="265.60" text-anchor="end" font-size="11" font-family="Liberation Sans, sans-serif">0.2</text>
<text x="41.2" y="209.80" text-anchor="end" font-size="11" font-family="Liberation Sans, sans-serif">0.4</text>
<text x="41.2" y="154.00" text-anchor="end" font-size="11" font-family="Liberation Sans, sans-serif">0.6</text>
<text x="41.2" y="98.20" text-anchor="end" font-size="11" font-family="Liberation Sans, sans-serif">0.8</text>
<text x="41.2" y="42.40" text-anchor="end" font-size="11" font-family="Liberation Sans, sans-serif">1</text>
<text x="41.2" y="321.40" text-anchor="end" font-size="11" font-family="Liberation Sans, sans-serif" clip-path="url(#c0)">0</text>
<text x="38.8" y="341.09" text-anchor="end" font-size="11.4" font-family="Liberation Sans, sans-serif">2</text>
<text x="373.6" y="341.09" font-size="11.4" font-family="Liberation Sans, sans-serif">2</text>
<text x="38.8" y="401.60" text-anchor="end" font-size="11.4" font-family="Liberation Sans, sans-serif">1</text>
<text x="373.6" y="401.60" font-size="11.4" font-family="Liberation Sans, sans-serif">1</text>
<text x="38.8" y="462.11" text-anchor="end" font-size="11.4" font-family="Liberation Sans, sans-serif">0.5</text>
<text x="373.6" y="462.11" font-size="11.4" font-family="Liberation Sans, sans-serif">0.5</text>
<text x="86.60" y="489.5" text-anchor="middle" font-size="12" font-family="Liberation Sans, sans-serif">2</text>
<text x="156.20" y="489.5" text-anchor="middle" font-size="12" font-family="Liberation Sans, sans-serif">4</text>
<text x="225.80" y="489.5" text-anchor="middle" font-size="12" font-family="Liberation Sans, sans-serif">6</text>
<text x="295.40" y="489.5" text-anchor="middle" font-size="12" font-family="Liberation Sans, sans-serif">8</text>
<text x="365.00" y="489.5" text-anchor="middle" font-size="12" font-family="Liberation Sans, sans-serif">10</text>
<rect x="73.80" y="59.40" width="5.2" height="5.2" fill="#000"/>
<text x="94.1" y="64.60" font-size="9" letter-spacing="0.2" font-family="Liberation Sans, sans-serif">ATLAS</text>
<line x1="63.9" y1="75.05" x2="88.9" y2="75.05" stroke="#B8600E" stroke-width="1.05" stroke-dasharray="3,2"/>
<circle cx="76.40" cy="75.05" r="2.7" fill="none" stroke="#B8600E" stroke-width="1.1"/>
<text x="94.1" y="77.65" font-size="9" letter-spacing="0.2" font-family="Liberation Sans, sans-serif">Herwig++ 2.7.1 default</text>
<line x1="63.9" y1="88.10" x2="88.9" y2="88.10" stroke="#3C9614" stroke-width="1.05" stroke-dasharray="3.5,2"/>
<rect x="73.90" y="85.60" width="5" height="5" fill="none" stroke="#3C9614" stroke-width="1.1"/>
<text x="94.1" y="90.70" font-size="9" letter-spacing="0.2" font-family="Liberation Sans, sans-serif">Herwig 7.2.1 default</text>
<line x1="63.9" y1="101.15" x2="88.9" y2="101.15" stroke="#0000FF" stroke-width="1.25"/>
<path d="M76.40,98.05 L79.50,103.55 L73.30,103.55Z" fill="#0000FF"/>
<text x="94.1" y="103.75" font-size="9" letter-spacing="0.2" font-family="Liberation Sans, sans-serif">Pythia 8.315 default</text>
<line x1="63.9" y1="114.20" x2="88.9" y2="114.20" stroke="#1796C4" stroke-width="1.05" stroke-dasharray="3.8,1.9,1.1,1.9"/>
<path d="M76.40,117.30 L79.50,111.80 L73.30,111.80Z" fill="#1796C4"/>
<text x="94.1" y="116.80" font-size="9" letter-spacing="0.2" font-family="Liberation Sans, sans-serif">Pythia 8.315 vincia-default</text>
<line x1="63.9" y1="127.25" x2="88.9" y2="127.25" stroke="#FF0000" stroke-width="1.2" stroke-dasharray="1,1.2"/>
<path d="M76.40,124.05 L78.50,127.25 L76.40,130.45 L74.30,127.25Z" fill="#FF0000"/>
<text x="94.1" y="129.85" font-size="9" letter-spacing="0.2" font-family="Liberation Sans, sans-serif">Sherpa 2.2.9 default</text>
<text x="51.7" y="14.3" font-size="12" font-family="Liberation Sans, sans-serif">900 GeV pp</text>
<text x="367.5" y="14.3" text-anchor="end" font-size="12" font-family="Liberation Sans, sans-serif">Underlying Event</text>
<text x="54.6" y="39.8" font-size="12" word-spacing="1" font-family="Liberation Sans, sans-serif">Std. dev. Transverse</text>
<path transform="translate(166.3,27.6)" d="M0.4,0 L13.8,0 L14.1,3.1 L13.5,3.1 L12.6,1.1 L4.4,1.0 L7.7,9.0 L1.8,17.3 L12.0,17.3 L13.6,14.1 L14.2,14.1 L14.0,19.3 L0,19.3 L0,18.4 L5.7,9.6 Z" fill="#000"/>
<text x="184.5" y="39.8" font-size="12" font-family="Liberation Sans, sans-serif">p</text>
<text x="190.9" y="50.6" font-size="8.4" font-family="Liberation Sans, sans-serif">T</text>
<text x="198.6" y="39.8" font-size="12" font-family="Liberation Sans, sans-serif">density vs.</text>
<text x="260.3" y="39.8" font-size="12" font-family="Liberation Sans, sans-serif">p</text>
<text x="265.6" y="33.0" font-size="7.5" textLength="11.2" font-family="Liberation Sans, sans-serif">trk1</text>
<text x="265.0" y="46.4" font-size="8.4" font-family="Liberation Sans, sans-serif">T</text>
<text x="276.4" y="39.8" font-size="12" font-family="Liberation Sans, sans-serif">,</text>
<path d="M283.1,33.9 L284.0,33.5 L285.5,38.4 L286.2,29.5 L294.8,29.5 L294.8,30.5 L287.0,30.5 L286.1,40.6 L285.1,40.6 Z" fill="#000"/>
<text x="288.8" y="39.8" font-size="12" font-family="Liberation Sans, sans-serif">s = {900 GeV}</text>
<text x="208" y="301.4" text-anchor="middle" font-size="8" fill="#aaa" font-family="Liberation Sans, sans-serif">(ATLAS_2010_I879407)</text>
<g transform="translate(13.4,168.4) rotate(-90)"><text x="0" y="0" font-size="12" font-family="Liberation Sans, sans-serif">Std. dev. d</text></g>
<g transform="translate(7.0,112.9) rotate(-90)"><text x="0" y="0" font-size="8" font-family="Liberation Sans, sans-serif">2</text></g>
<path transform="translate(0.8,106) rotate(-90) scale(0.9,0.985)" d="M0.4,0 L13.8,0 L14.1,3.1 L13.5,3.1 L12.6,1.1 L4.4,1.0 L7.7,9.0 L1.8,17.3 L12.0,17.3 L13.6,14.1 L14.2,14.1 L14.0,19.3 L0,19.3 L0,18.4 L5.7,9.6 Z" fill="#000"/>
<g transform="translate(13.4,88.5) rotate(-90)"><text x="0" y="0" font-size="12" font-family="Liberation Sans, sans-serif">p</text></g>
<g transform="translate(22,81.2) rotate(-90)"><text x="0" y="0" font-size="7.5" font-family="Liberation Sans, sans-serif">T</text></g>
<g transform="translate(13.4,75.2) rotate(-90)"><text x="0" y="0" font-size="12" textLength="59.8" lengthAdjust="spacingAndGlyphs" font-family="Liberation Sans, sans-serif">/d&#951;d&#966;[GeV]</text></g>
<g transform="translate(18.7,425.7) rotate(-90)"><text x="0" y="0" font-size="8.7" font-family="Liberation Sans, sans-serif">Ratio to ATLAS</text></g>
<g transform="translate(380.3,127) rotate(-90)"><text x="0" y="0" font-size="9.4" fill="#888" font-family="Liberation Sans, sans-serif">Rivet 4.1.0, &#8805; 2.1M events</text></g>
<g transform="translate(380.8,312.8) rotate(-90)"><text x="0" y="0" font-size="9.3" fill="#888" font-family="Liberation Sans, sans-serif">mcplots.cern.ch [arXiv:1306.3436]</text></g>
<text x="242.9" y="501.3" font-size="12.6" font-family="Liberation Sans, sans-serif">p</text>
<text x="250.0" y="508.0" font-size="8.6" font-family="Liberation Sans, sans-serif">T</text>
<text x="258.7" y="501.3" font-size="12.6" font-family="Liberation Sans, sans-serif">(leading track) [GeV]</text>
</svg></body></html>
